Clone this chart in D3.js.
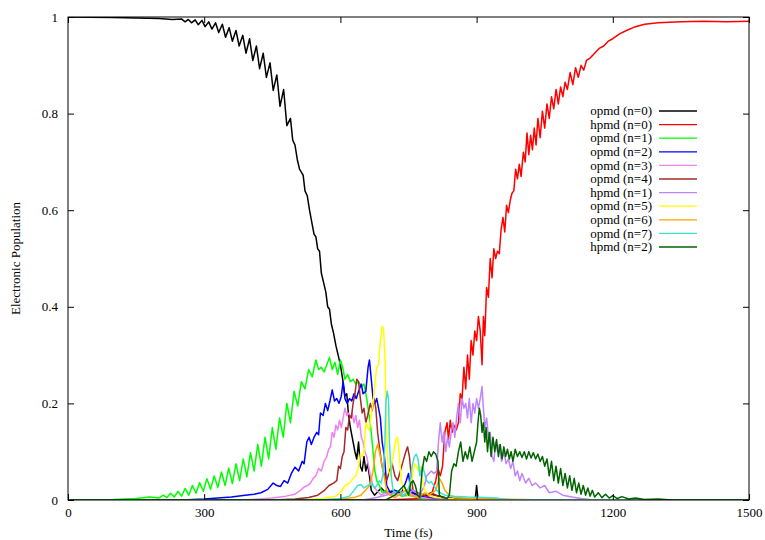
<!DOCTYPE html>
<html>
<head>
<meta charset="utf-8">
<script src="https://cdn.jsdelivr.net/npm/d3@7"></script>
<style>
  html, body { margin: 0; padding: 0; background: #fff; }
  svg text { font-family: 'Liberation Serif', 'Times New Roman', serif; font-size: 13px; fill: #000; }
</style>
</head>
<body>
<svg id="chart" width="765" height="540"></svg>
<script>
// ---------------- DATA (time in fs, population) ----------------
const xTicks = [0, 300, 600, 900, 1200, 1500];
const yTicks = [0, 0.2, 0.4, 0.6, 0.8, 1];
const seriesNames = ["opmd (n=0)", "hpmd (n=0)", "opmd (n=1)", "opmd (n=2)", "opmd (n=3)", "opmd (n=4)",
  "hpmd (n=1)", "opmd (n=5)", "opmd (n=6)", "opmd (n=7)", "hpmd (n=2)"];

const opmd0 = [[0,1.0],[100,0.999],[150,0.998],[200,0.997],[230,0.995],[250,0.996],[258,0.990],[265,0.995],[272,0.988],[280,0.994],[287,0.984],[295,0.993],[302,0.980],[310,0.990],[317,0.975],[325,0.988],[332,0.968],[340,0.985],[347,0.958],[355,0.978],[362,0.950],[370,0.972],[377,0.940],[385,0.962],[392,0.925],[400,0.955],[407,0.910],[415,0.940],[422,0.893],[430,0.925],[437,0.875],[445,0.905],[452,0.848],[460,0.880],[467,0.815],[475,0.850],[482,0.775],[490,0.790],[495,0.745],[500,0.735],[505,0.705],[510,0.685],[514,0.679],[518,0.672],[522,0.640],[527,0.630],[532,0.600],[537,0.575],[542,0.550],[546,0.545],[550,0.520],[554,0.515],[558,0.470],[563,0.450],[568,0.430],[572,0.400],[576,0.395],[580,0.365],[585,0.345],[590,0.320],[595,0.300],[600,0.280],[605,0.250],[610,0.215],[614,0.220],[618,0.175],[622,0.150],[627,0.125],[632,0.100],[636,0.085],[640,0.120],[644,0.070],[648,0.060],[652,0.090],[656,0.060],[660,0.075],[664,0.050],[668,0.020],[675,0.010],[690,0.025],[700,0.015],[720,0.020],[740,0.010],[760,0.015],[780,0.008],[800,0.012],[830,0.005],[850,0.003],[897,0.002],[900,0.030],[903,0.002],[1000,0.0],[1500,0.0]];

const hpmd0 = [[0,0],[700,0],[780,0.003],[800,0.010],[810,0.040],[815,0.065],[820,0.050],[825,0.070],[830,0.140],[835,0.160],[838,0.125],[842,0.165],[846,0.140],[850,0.155],[855,0.145],[860,0.160],[864,0.220],[868,0.210],[872,0.275],[876,0.230],[880,0.300],[884,0.250],[888,0.330],[892,0.300],[896,0.350],[900,0.330],[904,0.380],[908,0.350],[912,0.280],[915,0.380],[918,0.340],[922,0.440],[926,0.420],[930,0.500],[934,0.460],[938,0.520],[942,0.500],[946,0.515],[950,0.510],[954,0.560],[958,0.585],[962,0.555],[966,0.610],[970,0.595],[974,0.620],[978,0.635],[982,0.640],[986,0.685],[990,0.665],[994,0.695],[998,0.670],[1003,0.720],[1007,0.700],[1011,0.760],[1015,0.715],[1019,0.755],[1023,0.725],[1027,0.770],[1031,0.735],[1035,0.790],[1040,0.750],[1045,0.805],[1050,0.770],[1055,0.820],[1060,0.790],[1065,0.835],[1070,0.810],[1075,0.850],[1080,0.820],[1085,0.855],[1090,0.835],[1095,0.865],[1100,0.850],[1106,0.885],[1112,0.860],[1118,0.895],[1124,0.875],[1130,0.900],[1136,0.890],[1142,0.910],[1150,0.915],[1160,0.925],[1170,0.935],[1180,0.940],[1190,0.950],[1200,0.955],[1215,0.965],[1230,0.972],[1250,0.980],[1270,0.985],[1300,0.988],[1350,0.990],[1400,0.991],[1450,0.990],[1500,0.991]];

const opmd1 = [[0,0],[100,0.001],[150,0.003],[180,0.006],[200,0.004],[210,0.010],[218,0.005],[226,0.014],[234,0.006],[242,0.018],[250,0.008],[258,0.024],[266,0.010],[274,0.030],[282,0.014],[290,0.036],[298,0.018],[306,0.044],[314,0.022],[322,0.050],[330,0.026],[338,0.058],[346,0.030],[354,0.066],[362,0.034],[370,0.075],[378,0.040],[386,0.085],[394,0.048],[402,0.098],[410,0.060],[418,0.115],[426,0.070],[434,0.130],[442,0.085],[450,0.150],[458,0.105],[466,0.170],[474,0.130],[482,0.200],[490,0.160],[498,0.225],[506,0.195],[514,0.245],[522,0.230],[530,0.270],[538,0.255],[546,0.290],[552,0.270],[558,0.275],[564,0.265],[570,0.280],[576,0.295],[582,0.270],[588,0.285],[594,0.260],[600,0.290],[605,0.275],[610,0.250],[616,0.260],[622,0.245],[628,0.250],[634,0.240],[640,0.245],[646,0.235],[652,0.240],[658,0.210],[664,0.170],[668,0.140],[672,0.100],[676,0.060],[680,0.040],[686,0.030],[692,0.015],[700,0.020],[710,0.010],[720,0.015],[735,0.008],[750,0.010],[780,0.003],[820,0.001],[900,0],[1500,0]];

const opmd2 = [[0,0],[250,0],[300,0.002],[330,0.004],[360,0.006],[390,0.010],[410,0.012],[425,0.015],[440,0.022],[452,0.035],[460,0.030],[468,0.028],[476,0.040],[484,0.035],[492,0.055],[500,0.068],[508,0.060],[516,0.080],[520,0.075],[526,0.120],[531,0.130],[536,0.115],[542,0.130],[548,0.140],[552,0.135],[556,0.180],[562,0.175],[567,0.200],[572,0.185],[577,0.205],[582,0.228],[587,0.205],[592,0.210],[597,0.200],[602,0.215],[606,0.245],[610,0.210],[615,0.200],[620,0.210],[625,0.205],[630,0.220],[635,0.210],[640,0.225],[646,0.240],[650,0.220],[656,0.225],[661,0.275],[664,0.290],[668,0.250],[672,0.210],[676,0.200],[680,0.210],[684,0.190],[688,0.170],[692,0.120],[697,0.090],[702,0.030],[710,0.015],[720,0.020],[735,0.015],[745,0.040],[750,0.055],[755,0.020],[765,0.010],[790,0.005],[820,0.002],[850,0],[1500,0]];

const opmd3 = [[0,0],[380,0],[420,0.002],[450,0.004],[480,0.008],[500,0.012],[512,0.020],[520,0.027],[528,0.030],[534,0.035],[540,0.045],[546,0.050],[552,0.065],[558,0.060],[564,0.080],[570,0.090],[574,0.105],[578,0.110],[582,0.140],[586,0.130],[590,0.155],[594,0.145],[598,0.165],[602,0.150],[606,0.170],[610,0.190],[614,0.175],[618,0.180],[622,0.170],[626,0.180],[630,0.160],[634,0.175],[638,0.150],[642,0.165],[646,0.130],[650,0.120],[654,0.100],[658,0.090],[662,0.070],[666,0.050],[672,0.030],[680,0.020],[690,0.010],[700,0.015],[715,0.008],[730,0.012],[745,0.020],[760,0.010],[780,0.005],[800,0.002],[850,0],[1500,0]];

const opmd4 = [[0,0],[450,0],[500,0.002],[530,0.005],[550,0.010],[565,0.020],[575,0.030],[585,0.035],[592,0.040],[596,0.070],[600,0.065],[604,0.090],[608,0.100],[612,0.150],[616,0.145],[620,0.175],[624,0.170],[628,0.200],[632,0.220],[636,0.250],[640,0.245],[644,0.210],[648,0.180],[652,0.190],[656,0.160],[660,0.175],[666,0.200],[670,0.185],[674,0.210],[678,0.190],[682,0.140],[686,0.110],[690,0.080],[694,0.060],[698,0.050],[702,0.040],[708,0.060],[714,0.075],[720,0.050],[726,0.040],[732,0.060],[738,0.080],[744,0.100],[748,0.110],[752,0.090],[756,0.050],[760,0.020],[770,0.015],[785,0.010],[800,0.015],[820,0.005],[850,0.002],[880,0],[1500,0]];

const hpmd1 = [[0,0],[650,0],[680,0.005],[700,0.010],[720,0.015],[740,0.010],[760,0.020],[775,0.010],[785,0.030],[790,0.050],[795,0.055],[800,0.060],[806,0.055],[812,0.060],[816,0.120],[820,0.160],[824,0.120],[828,0.140],[832,0.100],[836,0.130],[840,0.110],[844,0.140],[848,0.160],[852,0.130],[856,0.170],[860,0.200],[864,0.160],[868,0.210],[872,0.190],[876,0.200],[880,0.170],[884,0.210],[888,0.160],[892,0.200],[896,0.180],[900,0.210],[904,0.190],[908,0.210],[912,0.235],[915,0.190],[918,0.150],[922,0.170],[926,0.130],[930,0.140],[934,0.090],[938,0.080],[942,0.120],[946,0.100],[950,0.115],[955,0.080],[960,0.100],[965,0.075],[970,0.085],[975,0.065],[980,0.080],[985,0.050],[990,0.060],[995,0.040],[1000,0.055],[1008,0.035],[1015,0.045],[1022,0.030],[1030,0.035],[1040,0.025],[1050,0.030],[1060,0.015],[1075,0.018],[1090,0.010],[1110,0.006],[1130,0.003],[1150,0.001],[1200,0],[1500,0]];

const opmd5 = [[0,0],[520,0],[560,0.003],[590,0.008],[600,0.015],[610,0.030],[620,0.035],[628,0.045],[634,0.050],[640,0.070],[644,0.095],[648,0.090],[652,0.100],[656,0.160],[660,0.150],[664,0.145],[668,0.180],[672,0.200],[676,0.240],[680,0.275],[684,0.280],[688,0.330],[692,0.360],[695,0.355],[698,0.300],[700,0.200],[703,0.100],[706,0.060],[710,0.050],[714,0.080],[718,0.100],[722,0.125],[726,0.130],[730,0.090],[734,0.040],[740,0.020],[748,0.010],[755,0.030],[760,0.060],[764,0.075],[768,0.070],[772,0.060],[776,0.070],[780,0.040],[786,0.020],[795,0.010],[810,0.005],[850,0.002],[900,0],[1500,0]];

const opmd6 = [[0,0],[550,0],[600,0.002],[630,0.005],[645,0.010],[655,0.020],[665,0.030],[672,0.060],[677,0.100],[682,0.115],[686,0.100],[690,0.080],[694,0.060],[698,0.040],[702,0.020],[710,0.010],[720,0.005],[735,0.015],[745,0.020],[755,0.010],[770,0.005],[785,0.015],[795,0.010],[810,0.020],[818,0.045],[824,0.035],[830,0.020],[840,0.010],[850,0.006],[870,0.004],[900,0.003],[950,0.002],[1000,0.001],[1050,0],[1500,0]];

const opmd7 = [[0,0],[560,0],[600,0.003],[620,0.008],[630,0.020],[638,0.030],[645,0.032],[652,0.025],[660,0.030],[668,0.035],[675,0.025],[680,0.030],[686,0.040],[690,0.035],[695,0.060],[698,0.120],[700,0.200],[703,0.225],[706,0.210],[708,0.120],[712,0.050],[716,0.020],[722,0.015],[730,0.020],[738,0.010],[745,0.015],[752,0.030],[758,0.070],[763,0.090],[767,0.095],[771,0.085],[775,0.050],[780,0.070],[784,0.060],[790,0.040],[795,0.035],[800,0.038],[806,0.030],[812,0.020],[820,0.015],[830,0.010],[850,0.008],[880,0.006],[920,0.005],[945,0.004],[960,0.001],[1000,0],[1500,0]];

const hpmd2 = [[0,0],[700,0],[720,0.010],[730,0.020],[740,0.030],[745,0.020],[750,0.010],[755,0.035],[760,0.040],[765,0.030],[770,0.010],[775,0.005],[780,0.060],[785,0.090],[790,0.080],[795,0.100],[800,0.090],[805,0.100],[810,0.095],[815,0.080],[818,0.010],[825,0.005],[835,0.003],[840,0.010],[845,0.060],[850,0.075],[855,0.070],[860,0.100],[865,0.120],[870,0.080],[875,0.100],[880,0.085],[885,0.110],[890,0.080],[895,0.100],[900,0.120],[903,0.160],[906,0.190],[909,0.175],[912,0.140],[915,0.160],[918,0.120],[921,0.150],[924,0.100],[928,0.140],[932,0.090],[936,0.130],[940,0.100],[944,0.125],[948,0.090],[952,0.115],[956,0.085],[960,0.110],[964,0.090],[968,0.105],[972,0.085],[976,0.100],[980,0.080],[985,0.105],[990,0.090],[995,0.100],[1000,0.088],[1005,0.100],[1010,0.085],[1015,0.100],[1020,0.087],[1025,0.098],[1030,0.085],[1035,0.095],[1040,0.080],[1045,0.090],[1050,0.070],[1055,0.085],[1060,0.050],[1065,0.080],[1070,0.040],[1075,0.070],[1080,0.035],[1085,0.065],[1090,0.030],[1095,0.055],[1100,0.025],[1105,0.050],[1110,0.020],[1115,0.045],[1120,0.015],[1125,0.035],[1130,0.012],[1135,0.030],[1140,0.010],[1145,0.025],[1150,0.008],[1155,0.020],[1160,0.006],[1168,0.015],[1176,0.005],[1184,0.012],[1192,0.004],[1200,0.009],[1210,0.003],[1220,0.007],[1235,0.002],[1250,0.004],[1270,0.001],[1300,0.002],[1330,0],[1500,0]];

const seriesData = [opmd0, hpmd0, opmd1, opmd2, opmd3, opmd4, hpmd1, opmd5, opmd6, opmd7, hpmd2];
const seriesColors = ["#000000", "#ff0000", "#00ff00", "#0000ff", "#ee82ee", "#a52a2a",
  "#bf85ff", "#ffff00", "#ffa500", "#40e0d0", "#006400"];

// ---------------- DRAW ----------------
const svg = d3.select("#chart");
const L = 68, R = 749, T = 17, B = 500;
const x = d3.scaleLinear().domain([0, 1500]).range([L, R]);
const y = d3.scaleLinear().domain([0, 1]).range([B, T]);

svg.append("defs").append("clipPath").attr("id", "clip")
  .append("rect").attr("x", L).attr("y", T).attr("width", R - L).attr("height", B - T);

const line = d3.line().x(d => x(d[0])).y(d => y(d[1]));
const plot = svg.append("g").attr("clip-path", "url(#clip)");
seriesData.forEach((data, i) => {
  plot.append("path").datum(data)
    .attr("d", line)
    .attr("fill", "none")
    .attr("stroke", seriesColors[i])
    .attr("stroke-width", 1.5)
    .attr("stroke-linejoin", "round");
});

// Axes (gnuplot style: inward ticks mirrored on all sides)
const fmt = d3.format("");
function styleAxis(g) {
  g.select(".domain").remove();
  g.selectAll(".tick line").attr("stroke", "#000").attr("stroke-width", 1);
  g.selectAll(".tick text").attr("font-family", null).attr("font-size", null);
}
svg.append("g").attr("transform", `translate(0,${B})`)
  .call(d3.axisBottom(x).tickValues(xTicks).tickFormat(fmt).tickSizeInner(-6).tickSizeOuter(0).tickPadding(8))
  .call(styleAxis);
svg.append("g").attr("transform", `translate(0,${T})`)
  .call(d3.axisTop(x).tickValues(xTicks).tickFormat("").tickSizeInner(-6).tickSizeOuter(0))
  .call(styleAxis);
svg.append("g").attr("transform", `translate(${L},0)`)
  .call(d3.axisLeft(y).tickValues(yTicks).tickFormat(fmt).tickSizeInner(-6).tickSizeOuter(0).tickPadding(10))
  .call(styleAxis);
svg.append("g").attr("transform", `translate(${R},0)`)
  .call(d3.axisRight(y).tickValues(yTicks).tickFormat("").tickSizeInner(-6).tickSizeOuter(0))
  .call(styleAxis);

svg.append("rect").attr("x", L).attr("y", T).attr("width", R - L).attr("height", B - T)
  .attr("fill", "none").attr("stroke", "#000").attr("stroke-width", 1);

// Axis titles
svg.append("text").attr("x", (L + R) / 2).attr("y", 537).attr("text-anchor", "middle").text("Time (fs)");
svg.append("text").attr("transform", `translate(20,${(T + B) / 2}) rotate(-90)`)
  .attr("text-anchor", "middle").text("Electronic Population");

// Legend
const legend = svg.append("g");
seriesNames.forEach((name, i) => {
  const ly = 111 + i * 13.6;
  legend.append("text").attr("x", 652).attr("y", ly).attr("dy", "0.33em")
    .attr("text-anchor", "end").text(name);
  legend.append("line").attr("x1", 659).attr("x2", 697).attr("y1", ly).attr("y2", ly)
    .attr("stroke", seriesColors[i]).attr("stroke-width", 1.3);
});
</script>
</body>
</html>
